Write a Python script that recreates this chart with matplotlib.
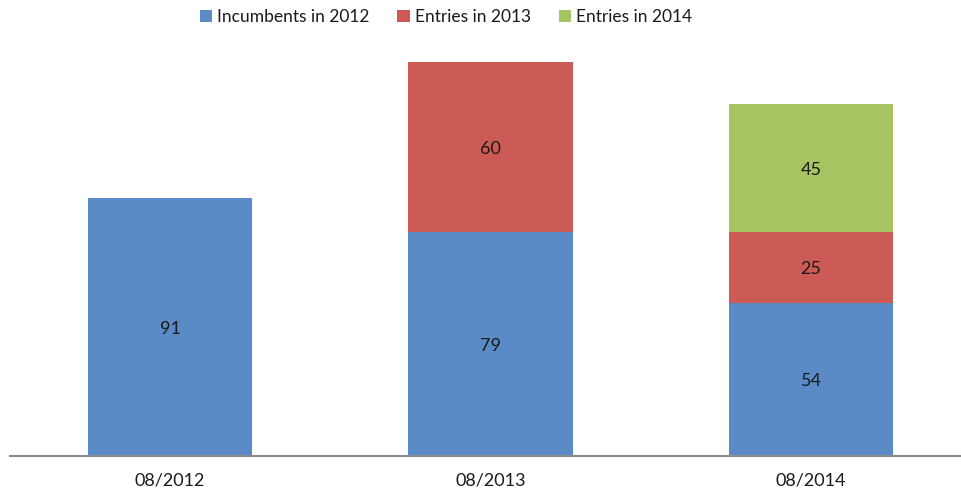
import numpy as np
import matplotlib.pyplot as plt

plt.rcParams['font.family'] = ['Lato', 'DejaVu Sans']

# data
dates = ['08/2012', '08/2013', '08/2014']
incumbents_2012 = [91, 79, 54]
entries_2013 = [0, 60, 25]
entries_2014 = [0, 0, 45]

series = [
    ('Incumbents in 2012', incumbents_2012, '#5B8BC7'),
    ('Entries in 2013', entries_2013, '#CC5A55'),
    ('Entries in 2014', entries_2014, '#A6C462'),
]

fig = plt.figure(figsize=(9.61, 4.95), dpi=100)
ax = fig.add_axes([10 / 961, 39 / 495, 951 / 961, 453.6 / 495])

x = np.arange(len(dates))
bottom = np.zeros(len(dates))
for name, vals, col in series:
    vals = np.array(vals, dtype=float)
    bars = ax.bar(x, vals, width=0.512, bottom=bottom, color=col, label=name)
    for b, v, y0 in zip(bars, vals, bottom):
        if v > 0:
            ax.text(b.get_x() + b.get_width() / 2, y0 + v / 2 - 0.6, '%d' % v,
                    ha='center', va='center', fontsize=13, color='#1a1a1a')
    bottom += vals

ax.set_xlim(-0.499, 2.468)
ax.set_ylim(0, 160)
ax.set_xticks(x)
ax.set_xticklabels(dates, fontsize=13, color='#1a1a1a')
ax.tick_params(axis='x', length=0, pad=12)
ax.set_yticks([])
for s in ['top', 'right', 'left']:
    ax.spines[s].set_visible(False)
ax.spines['bottom'].set_color('#8c8c8c')
ax.spines['bottom'].set_linewidth(1.5)

fig.legend(loc='center', bbox_to_anchor=(446 / 961, 1 - 17 / 495), ncol=3, frameon=False,
           fontsize=12.5, handlelength=0.7, handleheight=0.7, handletextpad=0.3,
           columnspacing=1.6, labelcolor='#1a1a1a')

fig.savefig('out.png', dpi=100)
